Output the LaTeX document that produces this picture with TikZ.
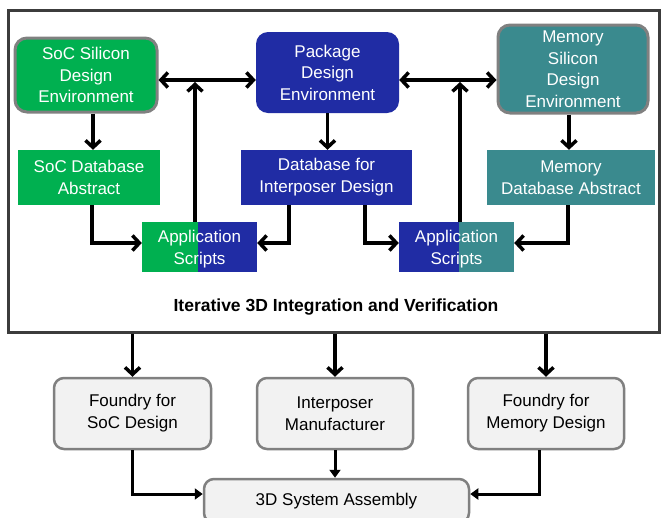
\documentclass[tikz,border=0pt]{standalone}
\usepackage{fontspec}
\setmainfont{Liberation Sans}
\usetikzlibrary{arrows.meta,calc}
\definecolor{sgreen}{RGB}{0,176,80}
\definecolor{sblue}{RGB}{32,44,164}
\definecolor{steal}{RGB}{58,138,142}
\definecolor{bordergray}{RGB}{128,128,128}
\definecolor{lightfill}{RGB}{242,242,242}
\definecolor{framegray}{RGB}{60,60,60}
\tikzset{
  topbox/.style={rounded corners=12pt, text=white, align=center, inner sep=0pt,
    font=\fontsize{17}{21.5}\selectfont},
  dbbox/.style={text=white, align=center, inner sep=0pt, font=\fontsize{17}{22}\selectfont},
  appbox/.style={inner sep=0pt, minimum width=115pt, minimum height=50pt},
  apptext/.style={text=white, align=center, inner sep=0pt, font=\fontsize{17}{22}\selectfont},
  botbox/.style={rounded corners=10pt, draw=bordergray, line width=2.5pt, fill=lightfill,
    align=center, inner sep=0pt, font=\fontsize{17}{22}\selectfont},
  arr/.style={line width=3.5pt, -{Straight Barb[length=7pt,width=15pt,line width=3.5pt]}},
  darr/.style={line width=3.5pt, {Straight Barb[length=7pt,width=15pt,line width=3.5pt]}-{Straight Barb[length=7pt,width=15pt,line width=3.5pt]}},
  tarr/.style={line width=3pt, -{Triangle[length=8pt,width=11pt]}},
  framebox/.style={draw=framegray, line width=3pt, inner sep=0pt}
}
\begin{document}
\begin{tikzpicture}[x=1pt,y=-1pt]
\useasboundingbox (0,0) rectangle (661,517);
\clip (0,0) rectangle (661,517);
\fill[white] (0,0) rectangle (661,517);
% frame
\node[framebox, minimum width=651pt, minimum height=322pt] (frame) at (333.5,171) {};
% top boxes
\node[topbox, fill=sgreen, draw=bordergray, line width=3pt, minimum width=142pt, minimum height=74pt] (soc) at (86,75) {SoC Silicon\\Design\\Environment};
\node[topbox, fill=sblue, minimum width=143pt, minimum height=81pt] (pkg) at (327.5,72.5) {Package\\Design\\Environment};
\node[topbox, fill=steal, draw=bordergray, line width=3pt, minimum width=150pt, minimum height=88pt] (mem) at (573,69) {Memory\\Silicon\\Design\\Environment};
% database boxes
\node[dbbox, fill=sgreen, minimum width=142pt, minimum height=55pt] (socdb) at (89,177.5) {SoC Database\\Abstract};
\node[dbbox, fill=sblue, minimum width=171pt, minimum height=55pt] (intdb) at (326.5,177.5) {Database for\\Interposer Design};
\node[dbbox, fill=steal, minimum width=168pt, minimum height=55pt] (memdb) at (571,177.5) {Memory\\Database Abstract};
% application scripts (two-coloured)
\node[appbox, path picture={
   \fill[sblue] (path picture bounding box.south west) rectangle (path picture bounding box.north east);
   \fill[sgreen] (path picture bounding box.south west) rectangle ([xshift=56pt]path picture bounding box.north west);
 }] (appL) at (199.5,247) {};
\node[apptext] (appLt) at ([yshift=-2pt]appL.center) {Application\\Scripts};
\node[appbox, path picture={
   \fill[steal] (path picture bounding box.south west) rectangle (path picture bounding box.north east);
   \fill[sblue] (path picture bounding box.south west) rectangle ([xshift=60pt]path picture bounding box.north west);
 }] (appR) at (456.5,247) {};
\node[apptext] (appRt) at ([yshift=-2pt]appR.center) {Application\\Scripts};
\node[font=\bfseries\fontsize{17.5}{21}\selectfont] (label) at (336,307) {Iterative 3D Integration and Verification};
% junctions
\coordinate (jL) at (195,80);
\coordinate (jR) at (460,80);
\draw[darr] (soc.east |- jL) -- (pkg.west |- jL);
\draw[darr] (pkg.east |- jR) -- (mem.west |- jR);
\draw[arr] (appL.north -| jL) -- ([yshift=-2pt]jL);
\draw[arr] (appR.north -| jR) -- ([yshift=-2pt]jR);
\draw[arr] ([xshift=7pt]soc.south) -- ([xshift=7pt]soc.south |- socdb.north);
\draw[arr] (pkg.south) -- (pkg.south |- intdb.north);
\draw[arr] ([xshift=-4pt]mem.south) -- ([xshift=-4pt]mem.south |- memdb.north);
\draw[arr] ([xshift=3pt]socdb.south) |- ([yshift=4pt]appL.west);
\draw[arr] ([xshift=-37.5pt]intdb.south) |- ([yshift=4pt]appL.east);
\draw[arr] ([xshift=38.5pt]intdb.south) |- ([yshift=4pt]appR.west);
\draw[arr] ([xshift=-3pt]memdb.south) |- ([yshift=4pt]appR.east);
% bottom boxes
\node[botbox, minimum width=157pt, minimum height=71pt] (fsoc) at (132.5,413.5) {Foundry for\\SoC Design};
\node[botbox, minimum width=156pt, minimum height=71pt] (intm) at (335,413.5) {Interposer\\Manufacturer};
\node[botbox, minimum width=156pt, minimum height=71pt] (fmem) at (546,413.5) {Foundry for\\Memory Design};
\node[botbox, minimum width=265pt, minimum height=44pt] (asm) at (336.5,501) {3D System Assembly};
\draw[arr] (fsoc.north |- frame.south) -- (fsoc.north);
\draw[arr] (intm.north |- frame.south) -- (intm.north);
\draw[arr] (fmem.north |- frame.south) -- (fmem.north);
\draw[tarr] (fsoc.south) |- ([yshift=7pt]asm.west);
\draw[tarr] (intm.south) -- (intm.south |- asm.north);
\draw[tarr] ([xshift=-7pt]fmem.south) |- ([yshift=7pt]asm.east);
\end{tikzpicture}
\end{document}
